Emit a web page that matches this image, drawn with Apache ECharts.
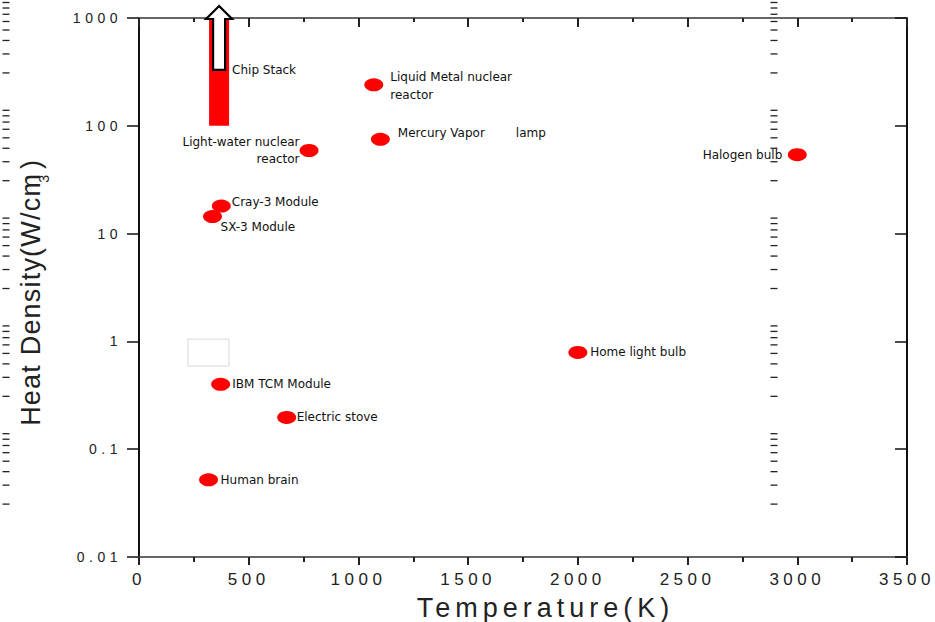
<!DOCTYPE html>
<html>
<head>
<meta charset="utf-8">
<script src="https://cdn.jsdelivr.net/npm/echarts@6/dist/echarts.min.js"></script>
<style>
html,body{margin:0;padding:0;background:#fff;}
#chart{width:935px;height:622px;}
text[style*="tickx"]{letter-spacing:4.5px;}
text[style*="titlex"]{letter-spacing:5px;}
text[style*="titley"]{letter-spacing:1.2px;}
</style>
</head>
<body>
<div id="chart"></div>
<script>
// ---- data ----
const pointNames = ['Liquid Metal nuclear reactor', 'Mercury Vapor lamp', 'Light-water nuclear reactor',
  'Cray-3 Module', 'SX-3 Module', 'Halogen bulb', 'Home light bulb', 'IBM TCM Module',
  'Electric stove', 'Human brain'];
const temperatures = [1070, 1100, 775, 375, 335, 3000, 2000, 372, 673, 317];
const heatDensities = [240, 75, 59, 18, 14.4, 54, 0.79, 0.4, 0.197, 0.052];

const chipStackName = 'Chip Stack';
const chipStackTemp = 365;
const chipStackLow = 100;
const chipStackHigh = 1000;
const chipArrowBase = 330;

const blankBox = [223, 1.05, 410, 0.59];

const xTickLabels = ['0', '500', '1000', '1500', '2000', '2500', '3000', '3500'];
const yTickLabels = ['0.01', '0.1', '1', '10', '100', '1000'];
const yMinorTicks = [0.02, 0.03, 0.04, 0.05, 0.06, 0.07, 0.08, 0.09,
  0.2, 0.3, 0.4, 0.5, 0.6, 0.7, 0.8, 0.9,
  2, 3, 4, 5, 6, 7, 8, 9,
  20, 30, 40, 50, 60, 70, 80, 90,
  200, 300, 400, 500, 600, 700, 800, 900];
const xMin = 0, xMax = 3500, xStep = 500;
const yMin = 0.01, yMax = 1000;

// ---- styles ----
const labelFont = 'DejaVu Sans';
const labelColor = '#111';
const labelLayoutMap = {
  'Liquid Metal nuclear reactor': {position: 'right', distance: 7, dy: 1.5, lineHeight: 18, text: 'Liquid Metal nuclear\nreactor'},
  'Mercury Vapor lamp': {position: 'right', distance: 8, dy: -6, text: '{a|Mercury Vapor}{b|lamp}'},
  'Light-water nuclear reactor': {position: 'left', distance: 0, dy: 0, lineHeight: 16.5, text: 'Light-water nuclear\nreactor'},
  'Cray-3 Module': {position: 'right', distance: 1, dy: -4},
  'SX-3 Module': {position: 'right', distance: -1.5, dy: 10},
  'Halogen bulb': {position: 'left', distance: 5.5, dy: 0},
  'Home light bulb': {position: 'right', distance: 2.8, dy: 0},
  'IBM TCM Module': {position: 'right', distance: 2.1, dy: 0},
  'Electric stove': {position: 'right', distance: 0.5, dy: 0},
  'Human brain': {position: 'right', distance: 2.5, dy: 0}
};

const scatterData = pointNames.map((n, i) => {
  const L = labelLayoutMap[n];
  return {
    name: n,
    value: [temperatures[i], heatDensities[i]],
    label: {
      show: true,
      position: L.position,
      distance: L.distance,
      formatter: L.text || n,
      lineHeight: L.lineHeight || 14,
      fontFamily: labelFont,
      fontSize: 12,
      color: labelColor,
      rich: {
        a: {fontFamily: labelFont, fontSize: 12, color: labelColor},
        b: {fontFamily: labelFont, fontSize: 12, color: labelColor, padding: [0, 0, 0, 31]}
      }
    }
  };
});

const chart = echarts.init(document.getElementById('chart'), null, {renderer: 'svg'});

const tickFont = "'Liberation Sans', tickx";
const titleFont = "'Liberation Sans', titlex";
const titleYFont = "'Liberation Sans', titley";

const option = {
  animation: false,
  backgroundColor: '#fff',
  grid: {left: 139, top: 18, width: 768, height: 539, containLabel: false, outerBoundsMode: 'none'},
  xAxis: [
    {
      type: 'value', position: 'bottom', min: xMin, max: xMax, interval: xStep,
      axisLine: {show: true, onZero: false, lineStyle: {color: '#666', width: 2}},
      axisTick: {show: true, inside: false, length: 8, lineStyle: {color: '#222', width: 2}},
      minorTick: {show: true, splitNumber: 2, length: 5, lineStyle: {color: '#222', width: 2}},
      splitLine: {show: false}, minorSplitLine: {show: false},
      axisLabel: {show: true, margin: 14, fontSize: 17, fontFamily: tickFont, color: '#222',
        formatter: v => xTickLabels[Math.round((v - xMin) / xStep)]},
      name: 'Temperature(K)', nameLocation: 'middle', nameGap: 37,
      nameTextStyle: {fontSize: 27, fontFamily: titleFont, color: '#222', padding: [0, 0, 0, 45]}
    },
    {
      type: 'value', position: 'top', min: xMin, max: xMax, interval: xStep,
      axisLine: {show: true, onZero: false, lineStyle: {color: '#666', width: 2}},
      axisTick: {show: true, inside: true, length: 9, lineStyle: {color: '#222', width: 2}},
      minorTick: {show: true, splitNumber: 2, length: 4, lineStyle: {color: '#222', width: 2}},
      splitLine: {show: false}, minorSplitLine: {show: false},
      axisLabel: {show: false}
    }
  ],
  yAxis: [
    {
      type: 'log', logBase: 10, min: yMin, max: yMax, position: 'left',
      axisLine: {show: true, onZero: false, lineStyle: {color: '#111', width: 2}},
      axisTick: {show: true, inside: false, length: 12, lineStyle: {color: '#111', width: 1.5}},
      minorTick: {show: false},
      splitLine: {show: false}, minorSplitLine: {show: false},
      axisLabel: {show: true, margin: 17, fontSize: 14, fontFamily: tickFont, color: '#222',
        formatter: v => yTickLabels[Math.round(Math.log10(v) - Math.log10(yMin))]},
      name: 'Heat Density(W/cm{s|3})', nameLocation: 'middle', nameGap: 88, nameRotate: 90,
      nameTextStyle: {fontSize: 27, fontFamily: titleYFont, color: '#222',
        rich: {s: {fontSize: 14, fontFamily: titleYFont, color: '#222', padding: [26, 6, 0, 1]}}}
    },
    {
      type: 'log', logBase: 10, min: yMin, max: yMax, position: 'right',
      axisLine: {show: true, onZero: false, lineStyle: {color: '#111', width: 2}},
      axisTick: {show: true, inside: true, length: 12, lineStyle: {color: '#111', width: 1.5}},
      minorTick: {show: false},
      splitLine: {show: false}, minorSplitLine: {show: false},
      axisLabel: {show: false}
    }
  ],
  series: [
    {
      type: 'custom', name: 'blankBox', xAxisIndex: 0, yAxisIndex: 0, clip: false, silent: true,
      encode: {x: [0, 2], y: [1, 3]},
      data: [blankBox],
      renderItem: function (params, api) {
        const a = api.coord([api.value(0), api.value(1)]);
        const b = api.coord([api.value(2), api.value(3)]);
        return {type: 'rect', shape: {x: a[0], y: a[1], width: b[0] - a[0], height: b[1] - a[1]},
          style: {fill: 'none', stroke: '#d8d8d8', lineWidth: 1}};
      }
    },
    {
      type: 'custom', name: chipStackName, xAxisIndex: 0, yAxisIndex: 0, clip: false, z: 3,
      encode: {x: 0, y: [1, 2]},
      data: [[chipStackTemp, chipStackLow, chipStackHigh, chipArrowBase]],
      renderItem: function (params, api) {
        const x = api.value(0);
        const lo = api.coord([x, api.value(1)]);
        const hi = api.coord([x, api.value(2)]);
        const base = api.coord([x, api.value(3)]);
        const cx = lo[0];
        return {
          type: 'group',
          children: [
            {type: 'rect', shape: {x: cx - 10, y: hi[1], width: 20, height: lo[1] - hi[1]}, style: {fill: '#ff0000'}},
            {type: 'polygon', shape: {points: [
              [cx - 6, base[1]], [cx + 6, base[1]], [cx + 6, hi[1] + 1], [cx + 13, hi[1] + 1],
              [cx, hi[1] - 12], [cx - 13, hi[1] + 1], [cx - 6, hi[1] + 1]]},
              style: {fill: '#fff', stroke: '#000', lineWidth: 2.2, lineJoin: 'miter'}},
            {type: 'text', x: cx + 13, y: base[1],
              style: {text: chipStackName, fontSize: 12, fontFamily: labelFont, fill: labelColor,
                verticalAlign: 'middle', align: 'left'}}
          ]
        };
      }
    },
    {
      type: 'scatter', name: 'points', xAxisIndex: 0, yAxisIndex: 0, z: 4,
      symbol: 'circle', symbolSize: [19, 13],
      itemStyle: {color: '#ff0000', opacity: 1},
      emphasis: {disabled: true},
      labelLayout: function (p) {
        const L = labelLayoutMap[pointNames[p.dataIndex]];
        return {dy: L.dy, hideOverlap: false};
      },
      data: scatterData
    }
  ]
};
chart.setOption(option);

// minor log ticks (2..9 per decade), positioned through the chart's own y scale
const gridRect = chart.getModel().getComponent('grid', 0).coordinateSystem.getRect();
const tickElems = [];
yMinorTicks.forEach(v => {
  const y = chart.convertToPixel({yAxisIndex: 0}, v);
  tickElems.push({type: 'line', silent: true, z: 100,
    shape: {x1: gridRect.x - 7, y1: y, x2: gridRect.x, y2: y},
    style: {stroke: '#222', lineWidth: 1.3}});
  tickElems.push({type: 'line', silent: true, z: 100,
    shape: {x1: gridRect.x + gridRect.width - 7, y1: y, x2: gridRect.x + gridRect.width, y2: y},
    style: {stroke: '#222', lineWidth: 1.3}});
});
chart.setOption({graphic: [{type: 'group', left: 0, top: 0, silent: true, children: tickElems}]});
</script>
</body>
</html>
